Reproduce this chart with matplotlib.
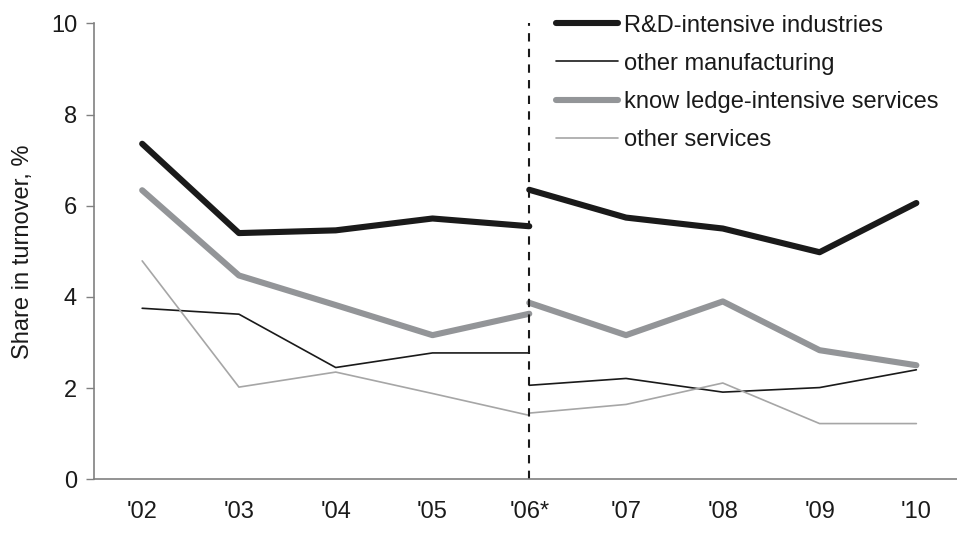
import matplotlib.pyplot as plt
import numpy as np

plt.rcParams['font.family'] = ['Liberation Sans', 'DejaVu Sans']

years = ["'02", "'03", "'04", "'05", "'06*", "'07", "'08", "'09", "'10"]

# values before the break ('02 - '06) and after it ('06 - '10)
rd_before = [7.36, 5.40, 5.46, 5.72, 5.55]
rd_after = [6.35, 5.74, 5.50, 4.98, 6.06]
manuf_before = [3.75, 3.62, 2.45, 2.77, 2.77]
manuf_after = [2.06, 2.21, 1.91, 2.01, 2.40]
kis_before = [6.34, 4.47, 3.82, 3.16, 3.63]
kis_after = [3.87, 3.16, 3.90, 2.83, 2.50]
serv_before = [4.79, 2.02, 2.35, 1.88, 1.40]
serv_after = [1.45, 1.64, 2.11, 1.22, 1.22]

series = [
    ("R&D-intensive industries", rd_before, rd_after, '#1a1a1a', 4.4),
    ("other manufacturing", manuf_before, manuf_after, '#1a1a1a', 1.2),
    ("know ledge-intensive services", kis_before, kis_after, '#939598', 4.4),
    ("other services", serv_before, serv_after, '#a6a6a6', 1.2),
]

fig = plt.figure(figsize=(9.57, 5.33), dpi=100)
ax = fig.add_axes([0.098, 0.101, 0.902, 0.855])

x = np.arange(len(years))
handles = []
for name, before, after, col, lw in series:
    h, = ax.plot(x[:5], before, color=col, lw=lw, solid_capstyle='round', label=name)
    ax.plot(x[4:], after, color=col, lw=lw, solid_capstyle='round')
    handles.append(h)

ax.axvline(4, color='#1a1a1a', lw=1.5, ls=(0, (4, 3.5)), ymin=0, ymax=1)

ax.set_ylim(0, 10)
ax.set_xlim(-0.5, 8.42)
ax.set_yticks([0, 2, 4, 6, 8, 10])
ax.set_xticks(x)
ax.set_xticklabels(years)
ax.tick_params(axis='x', length=0, pad=16, labelsize=17, colors='#1a1a1a')
ax.tick_params(axis='y', length=6, width=1, color='#808080', labelsize=17, labelcolor='#1a1a1a', pad=6)
for s in ['top', 'right']:
    ax.spines[s].set_visible(False)
for s in ['left', 'bottom']:
    ax.spines[s].set_color('#808080')
    ax.spines[s].set_linewidth(1.2)
ax.set_ylabel('Share in turnover, %', fontsize=17, color='#1a1a1a', labelpad=12)

leg = ax.legend(handles=handles, loc='upper left', bbox_to_anchor=(0.525, 1.04),
                frameon=False, fontsize=17, handlelength=2.6, handletextpad=0.25,
                labelspacing=0.68, borderaxespad=0)
for t in leg.get_texts():
    t.set_color('#1a1a1a')

fig.savefig('out.png', dpi=100)
